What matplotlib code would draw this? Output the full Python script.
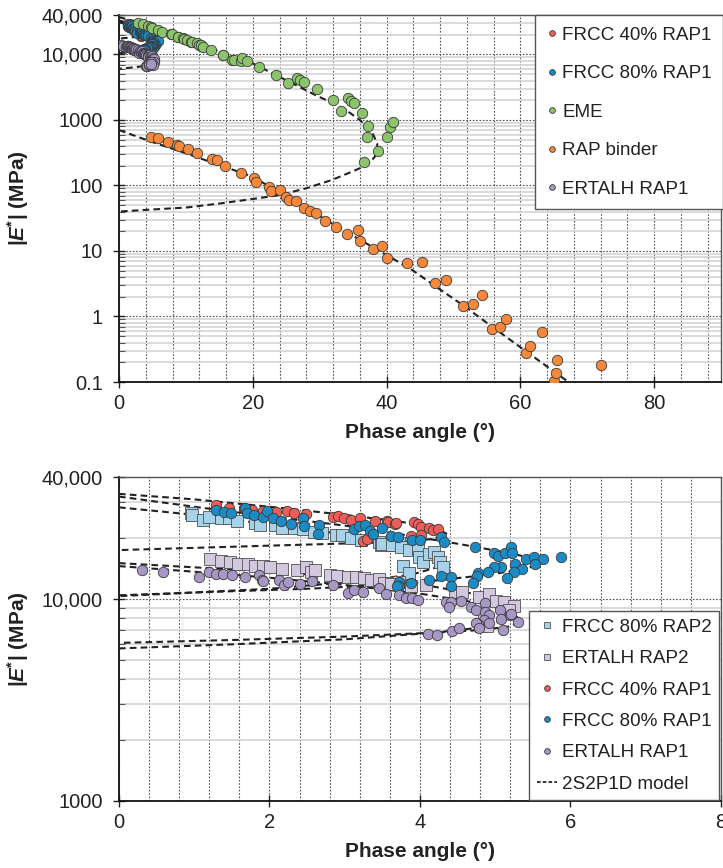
import numpy as np
import matplotlib.pyplot as plt
from matplotlib.ticker import FixedLocator, MultipleLocator, NullFormatter, LogLocator
from matplotlib.lines import Line2D

plt.rcParams['font.family'] = ['Liberation Sans', 'DejaVu Sans']
plt.rcParams['mathtext.fontset'] = 'custom'
plt.rcParams['mathtext.rm'] = 'Liberation Sans'
plt.rcParams['mathtext.bf'] = 'Liberation Sans:bold'
plt.rcParams['mathtext.it'] = 'Liberation Sans:italic'
plt.rcParams['mathtext.bfit'] = 'Liberation Sans:bold:italic'

# ---- data: (phase angle in deg, |E*| in MPa) ----
# EME
eme_ph = [2.8, 3.55, 4.3, 4.8, 5.0, 5.8, 6.5, 7.8, 7.9, 8.75, 8.8, 9.5, 9.75, 10.15, 10.75, 10.9,
          11.7, 12.0, 12.3, 12.5, 13.7, 15.5, 15.6, 16.9, 17.2, 18.3, 18.4, 19.1, 20.9, 23.4,
          25.2, 26.6, 27.1, 27.6, 29.6, 32.0, 33.2, 34.3, 34.7, 35.1, 36.4, 37.2, 37.05, 38.7,
          36.6, 40.0, 40.5, 40.9]
eme_E = [30500, 28800, 27200, 26000, 25600, 23600, 21800, 20300, 20300, 18700, 18300, 18000,
         17000, 16600, 15700, 15500, 14800, 13900, 13900, 13100, 11700, 9800, 9800, 8200, 8200,
         7900, 8700, 7900, 6500, 4850, 3700, 4400, 4070, 3840, 2940, 2010, 1380, 2140, 1970,
         1800, 1290, 817, 543, 339, 225, 555, 789, 940]
eme_fit_ph = [0, 3, 6, 9, 12, 15, 18, 20, 23, 26, 29, 31.5, 34, 36, 37.8, 38.6, 38.6, 38.2,
              37.1, 34.8, 31.8, 27.9, 23.9, 19.9, 15, 10, 5, 0]
eme_fit_E = [37000, 31000, 25000, 19500, 15000, 11000, 8500, 7300, 5100, 3600, 2500, 1900,
             1400, 1000, 660, 440, 340, 270, 205, 162, 121, 90, 71, 62, 53, 46, 43, 40]

# RAP binder
rap_ph = [4.8, 5.9, 7.3, 8.6, 9.0, 10.3, 11.7, 13.9, 14.7, 15.9, 18.2, 20.2, 20.5, 22.4, 22.7,
          24.0, 24.9, 25.4, 26.5, 27.6, 28.6, 29.4, 30.75, 32.4, 34.1, 35.7, 36.1, 38.0, 39.3,
          40.0, 43.1, 45.3, 47.3, 48.9, 51.4, 53.0, 54.3, 55.8, 57.0, 57.8, 60.9, 61.5, 63.2,
          65.1, 65.4, 65.5, 72.1]
rap_E = [555, 525, 466, 414, 405, 357, 309, 250, 244, 200, 156, 128, 114, 96, 83, 85, 67, 60,
         58, 45, 41, 38, 29, 23.5, 18, 21, 14, 10.6, 12, 7.9, 6.5, 6.8, 3.2, 3.6, 1.47, 1.54,
         2.1, 0.65, 0.68, 0.90, 0.28, 0.36, 0.59, 0.105, 0.137, 0.22, 0.18]
rap_fit_ph = [0, 5, 10, 15, 20, 25, 30, 35, 40, 43.75, 47.5, 51.5, 55, 60, 65, 67.2]
rap_fit_E = [700, 460, 310, 205, 136, 68, 34, 17, 8.7, 5.2, 2.8, 1.47, 0.8, 0.34, 0.145, 0.1]

# FRCC 40% RAP1
f40_ph = [1.29, 1.46, 1.66, 1.77, 1.92, 2.08, 2.23, 2.33, 2.49, 2.84, 2.91, 2.99, 3.08, 3.20,
          3.24, 3.30, 3.40, 3.56, 3.57, 3.67, 3.68, 3.88, 3.92, 3.97, 4.01, 4.01, 4.12, 4.17, 4.24]
f40_E = [29000, 28200, 28000, 27400, 27000, 26900, 27000, 26500, 26200, 25500, 25700, 25200,
         24600, 25000, 19300, 19700, 24300, 24200, 24000, 23300, 23800, 20400, 24000, 23300,
         22700, 20600, 22400, 21800, 22100]
f40_fit_ph = [0, 1, 2, 3, 3.75, 4.2, 4.35, 4.2, 3.75, 2, 0]
f40_fit_E = [33000, 31000, 28500, 26000, 24000, 22500, 21000, 19800, 19100, 18300, 17400]

# FRCC 80% RAP1
f80_ph = [1.29, 1.40, 1.49, 1.67, 1.70, 1.79, 1.92, 1.97, 2.05, 2.15, 2.28, 2.45, 2.46, 2.66,
          2.64, 3.12, 3.19, 3.27, 3.34, 3.38, 3.50, 3.62, 3.71, 3.90, 4.00, 4.28, 4.32, 4.73,
          4.98, 5.04, 5.13, 5.21, 5.22, 5.41, 5.52, 5.64, 5.53, 5.87,
          5.26, 5.35, 5.25, 5.15, 5.07, 4.98, 4.90, 4.77, 4.76, 4.70, 4.41, 4.41, 4.28, 4.12,
          3.88, 3.72, 3.72, 3.70]
f80_E = [27600, 26900, 26500, 28000, 26500, 25900, 25300, 27100, 25000, 24300, 23500, 25000,
         22900, 23100, 20900, 22200, 22900, 23100, 21600, 21000, 22300, 20400, 20200, 19500,
         19500, 20200, 19100, 18100, 16800, 16200, 16800, 18100, 16800, 15800, 16100, 15800,
         14900, 16100,
         14800, 14100, 13600, 12600, 14400, 14400, 13600, 13400, 12900, 12000, 12800, 11600,
         12900, 12400, 12000, 12100, 11500, 11500]
f80_fit_ph = [0, 1, 2, 3, 3.75, 4.5, 5.2, 5.6, 5.55, 5.3, 4.8, 4.2, 3.75, 2.5, 1.2, 0]
f80_fit_E = [32000, 28500, 25500, 23000, 20800, 18700, 16800, 15500, 14600, 13800, 13000,
             12300, 11800, 11200, 10800, 10400]

# ERTALH RAP1
er1_ph = [0.30, 0.59, 1.06, 1.19, 1.29, 1.38, 1.50, 1.68, 1.86, 1.90, 1.92, 2.12, 2.19, 2.24,
          2.41, 2.57, 2.84, 3.04, 3.12, 3.24, 3.45, 3.55, 3.72, 3.81, 3.90, 3.98, 4.35, 4.41,
          4.54, 4.39, 4.68, 4.75, 4.86, 4.87, 4.92, 5.06, 4.85, 4.92, 5.08, 4.77, 5.19, 5.21,
          5.30, 5.10, 4.10, 4.22, 4.42, 4.52, 4.74, 4.79]
er1_E = [13900, 13500, 12800, 13500, 13300, 13300, 13100, 12800, 13100, 12400, 12300, 12400,
         11700, 12100, 11800, 12300, 11700, 10700, 11100, 10800, 11300, 10500, 10400, 10100,
         10100, 9900, 9660, 9660, 9800, 9100, 9100, 8800, 9500, 8600, 8300, 8800, 7850, 7550,
         7900, 7500, 8300, 8450, 7690, 7000, 6700, 6600, 6950, 7200, 7550, 7130]
er1_fit_ph = [0, 1, 2, 3, 4, 4.8, 5.2, 5.35, 5.2, 4.8, 4.2, 3, 1.5, 0]
er1_fit_E = [14500, 13600, 12700, 11700, 10600, 9500, 8600, 7800, 7300, 7000, 6800, 6500,
             6250, 6050]

# FRCC 80% RAP2
f80r2_ph = [0.96, 0.97, 1.12, 1.20, 1.35, 1.46, 1.57, 1.81, 1.88, 2.07, 2.17, 2.32, 2.44, 2.59,
            2.70, 2.88, 2.97, 3.08, 3.21, 3.46, 3.48, 3.62, 3.72, 3.50, 3.63, 3.75, 3.86, 3.97,
            3.99, 4.04, 4.12, 4.19, 4.24, 4.27, 4.30, 3.77, 3.86]
f80r2_E = [26500, 25900, 24500, 25500, 25000, 25000, 24300, 23800, 23100, 23100, 22500, 22300,
           22100, 21400, 21100, 20600, 20600, 19900, 19500, 19100, 18400, 18400, 18900, 18700,
           18400, 18100, 17400, 17600, 16100, 15200, 16700, 17100, 16000, 15200, 14400, 14500,
           13400]
f80r2_fit_ph = [0, 1, 2, 3, 3.75, 4.15, 4.3, 4.2, 3.9, 3.3, 2, 0]
f80r2_fit_E = [28300, 26000, 23300, 20800, 18800, 17000, 15500, 14200, 13200, 12300, 11200, 10300]

# ERTALH RAP2
er2_ph = [1.21, 1.35, 1.47, 1.58, 1.72, 1.81, 1.92, 2.01, 2.17, 2.37, 2.48, 2.55, 2.61, 2.81,
          2.90, 3.04, 3.15, 3.25, 3.35, 3.46, 3.61, 3.72, 3.52, 3.61, 3.88, 4.08, 4.46, 4.56,
          4.78, 4.92, 5.01, 5.12, 5.25, 5.18, 4.85, 4.81, 4.89]
er2_E = [15800, 15300, 15200, 14900, 14800, 14500, 14500, 14300, 14000, 13900, 14300, 13500,
         13900, 13100, 12900, 12800, 12800, 12600, 12400, 12500, 11900, 12100, 11900, 11800,
         11500, 11700, 10800, 10800, 10200, 10500, 9800, 9600, 9200, 8800, 8300, 7300, 7300]
er2_fit_ph = [0, 1, 2, 3, 4, 4.7, 5.1, 5.3, 5.2, 4.8, 4.2, 3, 1.5, 0]
er2_fit_E = [15000, 14300, 13600, 12800, 11800, 10600, 9700, 8800, 8000, 7200, 6800, 6300,
             5950, 5680]

c_f40 = '#EE5D58'
c_f80 = '#1B8BC6'
c_eme = '#8CC46C'
c_rap = '#F5883A'
c_er1 = '#A797C6'
c_f80r2 = '#A6D3EA'
c_er2 = '#D2C8DF'

fig = plt.figure(figsize=(7.23, 8.68), dpi=100)
ax1 = fig.add_axes([0.1646, 0.5599, 0.8326, 0.4228])
ax2 = fig.add_axes([0.1646, 0.0772, 0.8326, 0.3733])

dash = dict(color='#222222', lw=1.5, ls=(0, (3.2, 2.0)), zorder=3)
mk = dict(ls='none', marker='o', ms=7.5, mec='#3a3a3a', mew=0.6, zorder=4)
sq = dict(ls='none', marker='s', ms=8, mec='#505050', mew=0.6, zorder=4)


def style_axes(ax, ymin, ymax, yticks, ylabels, xmax, xmajor, xgrid):
    ax.set_yscale('log')
    ax.set_ylim(ymin, ymax)
    ax.set_xlim(0, xmax)
    ax.yaxis.set_major_locator(FixedLocator(yticks))
    ax.set_yticklabels(ylabels)
    ax.yaxis.set_minor_locator(LogLocator(base=10, subs=np.arange(2, 10)))
    ax.yaxis.set_minor_formatter(NullFormatter())
    ax.xaxis.set_major_locator(MultipleLocator(xmajor))
    ax.xaxis.set_minor_locator(MultipleLocator(xgrid))
    ax.tick_params(axis='both', which='major', direction='inout', length=9, width=1,
                   labelsize=14.5, colors='#222222', labelcolor='#222222')
    ax.tick_params(axis='y', which='major', pad=7)
    ax.tick_params(axis='x', which='major', pad=4)
    ax.tick_params(axis='y', which='minor', direction='in', length=4, width=0.8, colors='#555555')
    ax.tick_params(axis='x', which='minor', length=0)
    ax.grid(which='minor', axis='y', color='#d4d4d4', lw=1.2, ls='-', zorder=0)
    ax.grid(which='major', axis='y', color='#555555', lw=0.8, ls=(0, (1.5, 1.5)), zorder=1)
    ax.grid(which='both', axis='x', color='#555555', lw=0.8, ls=(0, (1.5, 1.5)), zorder=1)
    ax.set_axisbelow(True)
    for s in ['left', 'bottom']:
        ax.spines[s].set_linewidth(1.3)
        ax.spines[s].set_color('#111111')
    for s in ['top', 'right']:
        ax.spines[s].set_linewidth(1.0)
        ax.spines[s].set_color('#555555')
    ax.set_xlabel('Phase angle (°)', fontsize=15, fontweight='bold', labelpad=7,
                  color='#222222')
    ax.set_ylabel(r'|$\mathbfit{E}^{\mathbf{*}}$| (MPa)', fontsize=15, fontweight='bold',
                  labelpad=8, color='#222222')


# ---- top panel ----
style_axes(ax1, 0.1, 40000, [0.1, 1, 10, 100, 1000, 10000, 40000],
           ['0.1', '1', '10', '100', '1000', '10,000', '40,000'], 90, 20, 4)
for fx, fy in [(eme_fit_ph, eme_fit_E), (rap_fit_ph, rap_fit_E), (f40_fit_ph, f40_fit_E),
               (f80_fit_ph, f80_fit_E), (er1_fit_ph, er1_fit_E)]:
    ax1.plot(fx, fy, **dash)
ax1.plot(f40_ph, f40_E, mfc=c_f40, label='FRCC 40% RAP1', **mk)
ax1.plot(f80_ph, f80_E, mfc=c_f80, label='FRCC 80% RAP1', **mk)
ax1.plot(eme_ph, eme_E, mfc=c_eme, label='EME', **mk)
ax1.plot(rap_ph, rap_E, mfc=c_rap, label='RAP binder', **mk)
ax1.plot(er1_ph, er1_E, mfc=c_er1, label='ERTALH RAP1', **mk)
leg1 = ax1.legend(loc='upper left', bbox_to_anchor=(535 / 723, 1 - 15 / 868),
                  bbox_transform=fig.transFigure, fontsize=13.6, markerscale=0.55,
                  handlelength=0.55, handletextpad=0.3, labelspacing=1.13, borderpad=0.6,
                  borderaxespad=0, fancybox=False, framealpha=1, edgecolor='#555555',
                  labelcolor='#222222')
leg1.get_frame().set_linewidth(1.0)

# ---- bottom panel ----
style_axes(ax2, 1000, 40000, [1000, 10000, 40000], ['1000', '10,000', '40,000'], 8, 2, 0.4)
for fx, fy in [(f40_fit_ph, f40_fit_E), (f80_fit_ph, f80_fit_E), (er1_fit_ph, er1_fit_E),
               (f80r2_fit_ph, f80r2_fit_E), (er2_fit_ph, er2_fit_E)]:
    ax2.plot(fx, fy, **dash)
ax2.plot(f80r2_ph, f80r2_E, mfc=c_f80r2, label='FRCC 80% RAP2', **sq)
ax2.plot(er2_ph, er2_E, mfc=c_er2, label='ERTALH RAP2', **sq)
ax2.plot(f40_ph, f40_E, mfc=c_f40, label='FRCC 40% RAP1', **mk)
ax2.plot(f80_ph, f80_E, mfc=c_f80, label='FRCC 80% RAP1', **mk)
ax2.plot(er1_ph, er1_E, mfc=c_er1, label='ERTALH RAP1', **mk)
handles, labels = ax2.get_legend_handles_labels()
handles.append(Line2D([], [], color='#222222', lw=1.3, ls=(0, (2.0, 1.2))))
labels.append('2S2P1D model')
leg2 = ax2.legend(handles, labels, loc='upper left', bbox_to_anchor=(529 / 723, 1 - 611 / 868),
                  bbox_transform=fig.transFigure, fontsize=13.6, markerscale=0.55,
                  handlelength=1.1, handletextpad=0.25, labelspacing=0.75, borderpad=0.4,
                  borderaxespad=0, fancybox=False, framealpha=1, edgecolor='#555555',
                  labelcolor='#222222')
leg2.get_frame().set_linewidth(1.0)

fig.savefig('out.png', dpi=100)
